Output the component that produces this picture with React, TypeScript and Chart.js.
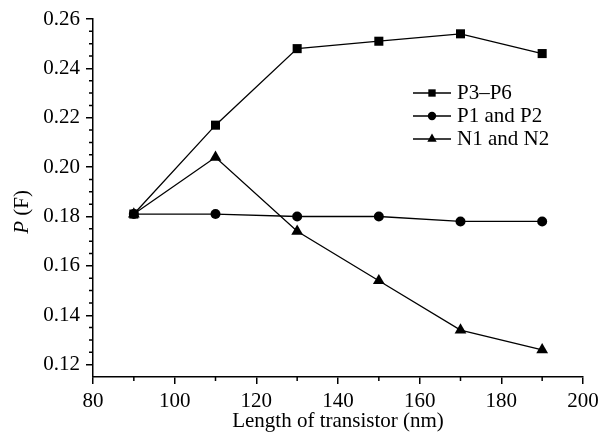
import React, { useEffect, useRef } from 'react';
import { Chart, registerables } from 'chart.js';

Chart.register(...registerables);

const xValues = [90, 110, 130, 150, 170, 190];
const p3p6 = [0.181, 0.217, 0.248, 0.251, 0.254, 0.246];
const p1p2 = [0.181, 0.181, 0.180, 0.180, 0.178, 0.178];
const n1n2 = [0.181, 0.204, 0.174, 0.154, 0.134, 0.126];
const seriesNames = ['P3\u2013P6', 'P1 and P2', 'N1 and N2'];
const pointStyles = ['rect', 'circle', 'triangle'];
const xTicks = [80, 100, 120, 140, 160, 180, 200];
const yTicks = [0.12, 0.14, 0.16, 0.18, 0.2, 0.22, 0.24, 0.26];
const xMinorTicks = [90, 110, 130, 150, 170, 190];
const yMinorTicks = [
  0.125, 0.13, 0.135, 0.145, 0.15, 0.155, 0.165, 0.17, 0.175, 0.185, 0.19, 0.195,
  0.205, 0.21, 0.215, 0.225, 0.23, 0.235, 0.245, 0.25, 0.255,
];
const xTitle = 'Length of transistor (nm)';
const yTitleItalic = 'P';
const yTitleRest = ' (F)';

const FONT = 'Liberation Serif, Times New Roman, serif';
const FS = 21;

function drawMarker(ctx: CanvasRenderingContext2D, style: string, x: number, y: number, r: number) {
  ctx.beginPath();
  if (style === 'rect') {
    const s = r * Math.SQRT1_2;
    ctx.rect(x - s, y - s, 2 * s, 2 * s);
  } else if (style === 'circle') {
    ctx.arc(x, y, r, 0, Math.PI * 2);
  } else {
    const h = Math.PI * 2 / 3;
    ctx.moveTo(x, y - r);
    ctx.lineTo(x + Math.sin(h) * r, y - Math.cos(h) * r);
    ctx.lineTo(x + Math.sin(2 * h) * r, y - Math.cos(2 * h) * r);
    ctx.closePath();
  }
  ctx.fill();
}

const decorPlugin = {
  id: 'decor',
  afterDraw(chart: any) {
    const ctx: CanvasRenderingContext2D = chart.ctx;
    const xs = chart.scales.x;
    const ys = chart.scales.y;
    ctx.save();
    ctx.strokeStyle = '#000';
    ctx.fillStyle = '#000';
    ctx.lineWidth = 1.5;
    ctx.beginPath();
    const axisY = chart.chartArea.bottom;
    const axisX = chart.chartArea.left;
    xMinorTicks.forEach((v) => {
      const px = xs.getPixelForValue(v);
      ctx.moveTo(px, axisY);
      ctx.lineTo(px, axisY + 4);
    });
    yMinorTicks.forEach((v) => {
      const py = ys.getPixelForValue(v);
      ctx.moveTo(axisX, py);
      ctx.lineTo(axisX - 4, py);
    });
    ctx.stroke();

    // y title
    ctx.save();
    ctx.translate(22, 212);
    ctx.rotate(-Math.PI / 2);
    ctx.textBaseline = 'middle';
    ctx.textAlign = 'left';
    ctx.font = `italic ${FS}px ` + FONT;
    const w1 = ctx.measureText(yTitleItalic).width;
    ctx.font = `${FS}px ` + FONT;
    const w2 = ctx.measureText(yTitleRest).width;
    const start = -(w1 + w2) / 2;
    ctx.font = `italic ${FS}px ` + FONT;
    ctx.fillText(yTitleItalic, start, 0);
    ctx.font = `${FS}px ` + FONT;
    ctx.fillText(yTitleRest, start + w1, 0);
    ctx.restore();

    // legend
    const rows = [93, 116, 139];
    ctx.lineWidth = 1.3;
    ctx.font = `${FS}px ` + FONT;
    ctx.textBaseline = 'middle';
    ctx.textAlign = 'left';
    chart.data.datasets.forEach((ds: any, i: number) => {
      const y = rows[i];
      ctx.beginPath();
      ctx.moveTo(413, y);
      ctx.lineTo(451, y);
      ctx.stroke();
      drawMarker(ctx, pointStyles[i], 432, y, i === 0 ? 5.2 : i === 1 ? 4.2 : 5.4);
      ctx.fillText(ds.label, 457, y);
    });
    ctx.restore();
  },
};

export default function App() {
  const ref = useRef<HTMLCanvasElement>(null);
  useEffect(() => {
    if (!ref.current) return;
    const mk = (label: string, data: number[], style: string, radius: number) => ({
      label,
      data: xValues.map((x, i) => ({ x, y: data[i] })),
      borderColor: '#000',
      backgroundColor: '#000',
      borderWidth: 1.3,
      pointStyle: style,
      pointRadius: radius,
      pointBorderWidth: 0,
      pointBackgroundColor: '#000',
      tension: 0,
    });
    const chart = new Chart(ref.current, {
      type: 'line',
      data: {
        datasets: [
          mk(seriesNames[0], p3p6, pointStyles[0], 6.4),
          mk(seriesNames[1], p1p2, pointStyles[1], 5),
          mk(seriesNames[2], n1n2, pointStyles[2], 6.8),
        ],
      },
      options: {
        responsive: false,
        animation: false,
        events: [],
        layout: { padding: { left: 0, top: 19, right: 28, bottom: 0 } },
        plugins: { legend: { display: false }, tooltip: { enabled: false } },
        scales: {
          x: {
            type: 'linear',
            position: 'bottom',
            min: 80,
            max: 200,
            afterBuildTicks: (s: any) => {
              s.ticks = xTicks.map((v) => ({ value: v }));
            },
            afterFit: (s: any) => {
              s.height = 66;
            },
            grid: { drawOnChartArea: false, drawTicks: true, tickLength: 7, tickColor: '#000', tickWidth: 1.5, color: '#000', lineWidth: 1.5 },
            border: { color: '#000', width: 1.5 },
            ticks: {
              color: '#000',
              font: { family: FONT, size: FS },
              padding: 5,
              maxRotation: 0,
              autoSkip: false,
              callback: (v: any) => String(v),
            },
            title: {
              display: true,
              text: xTitle,
              color: '#000',
              font: { family: FONT, size: FS },
              padding: { top: 0, bottom: 9 },
            },
          },
          y: {
            type: 'linear',
            min: 0.115,
            max: 0.26,
            afterBuildTicks: (s: any) => {
              s.ticks = yTicks.map((v) => ({ value: v }));
            },
            afterFit: (s: any) => {
              s.width = 93;
            },
            grid: { drawOnChartArea: false, drawTicks: true, tickLength: 7, tickColor: '#000', tickWidth: 1.5, color: '#000', lineWidth: 1.5 },
            border: { color: '#000', width: 1.5 },
            ticks: {
              color: '#000',
              font: { family: FONT, size: FS },
              padding: 6,
              autoSkip: false,
              callback: (v: any) => Number(v).toFixed(2),
            },
          },
        },
      } as any,
      plugins: [decorPlugin],
    });
    return () => chart.destroy();
  }, []);
  return (
    <div style={{ position: 'fixed', left: 0, top: 0, width: 611, height: 443, background: '#fff' }}>
      <canvas ref={ref} width={611} height={443} style={{ display: 'block' }} />
    </div>
  );
}
